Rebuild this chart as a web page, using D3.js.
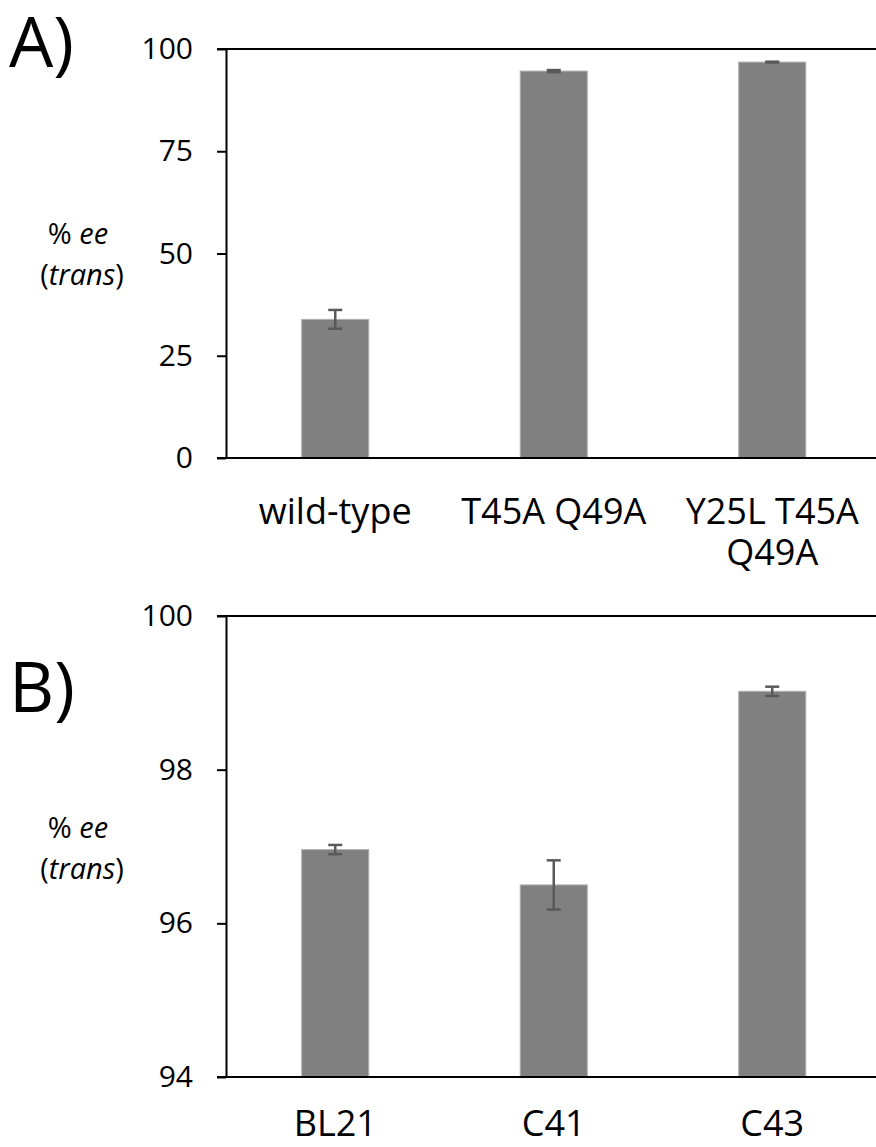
<!DOCTYPE html>
<html>
<head>
<meta charset="utf-8">
<script src="https://cdn.jsdelivr.net/npm/d3@7"></script>
<style>
  html, body { margin: 0; padding: 0; background: #fff; }
  svg { display: block; }
  text { font-family: "Open Sans", "Noto Sans", sans-serif; fill: #000; }
</style>
</head>
<body>
<svg id="chart" width="876" height="1147"></svg>
<script>
// ---- Data ----
const categoriesA = ["wild-type", "T45A Q49A", "Y25L T45A Q49A"];
const valuesA = [33.9, 94.6, 96.8];
const errorsA = [2.3, 0.25, 0.1];
const ticksA = [0, 25, 50, 75, 100];

const categoriesB = ["BL21", "C41", "C43"];
const valuesB = [96.96, 96.50, 99.02];
const errorsB = [0.06, 0.32, 0.06];
const ticksB = [94, 96, 98, 100];

const panelLabels = ["A)", "B)"];
const yTitle = ["% ", "ee", "(", "trans", ")"];

const svg = d3.select("#chart");

function drawPanel(opts) {
  const {cats, vals, errs, ticks, domain, top, bottom, label, labelY, titleY, catY} = opts;
  const left = 226, right = 881.5;
  const x = d3.scaleBand().domain(cats).range([left, right]).padding(0);
  const y = d3.scaleLinear().domain(domain).range([bottom, top]);
  const g = svg.append("g");

  // top line at max value
  g.append("line")
    .attr("x1", left - 9).attr("x2", 876)
    .attr("y1", y(domain[1])).attr("y2", y(domain[1]))
    .attr("stroke", "#000").attr("stroke-width", 2);

  // bars
  const bw = x.bandwidth() * 0.307;
  g.selectAll("rect.bar").data(cats).enter().append("rect")
    .attr("class", "bar")
    .attr("x", d => x(d) + x.bandwidth() / 2 - bw / 2)
    .attr("width", bw)
    .attr("y", (d, i) => y(vals[i]))
    .attr("height", (d, i) => bottom - y(vals[i]))
    .attr("fill", "#808080")
    .attr("stroke", "#b0b0b0")
    .attr("stroke-width", 1);

  // error bars
  const eb = g.selectAll("g.err").data(cats).enter().append("g").attr("class", "err")
    .attr("stroke", "#595959").attr("stroke-width", 2.5);
  eb.append("line")
    .attr("x1", d => x(d) + x.bandwidth() / 2).attr("x2", d => x(d) + x.bandwidth() / 2)
    .attr("y1", (d, i) => y(vals[i] + errs[i])).attr("y2", (d, i) => y(vals[i] - errs[i]));
  eb.append("line")
    .attr("x1", d => x(d) + x.bandwidth() / 2 - 7).attr("x2", d => x(d) + x.bandwidth() / 2 + 7)
    .attr("y1", (d, i) => y(vals[i] + errs[i])).attr("y2", (d, i) => y(vals[i] + errs[i]));
  eb.append("line")
    .attr("x1", d => x(d) + x.bandwidth() / 2 - 7).attr("x2", d => x(d) + x.bandwidth() / 2 + 7)
    .attr("y1", (d, i) => y(vals[i] - errs[i])).attr("y2", (d, i) => y(vals[i] - errs[i]));

  // y axis
  const yAxis = d3.axisLeft(y).tickValues(ticks).tickFormat(d3.format("d"))
    .tickSize(9).tickPadding(24).tickSizeOuter(0);
  const ya = g.append("g").attr("transform", `translate(${left},0)`).call(yAxis);
  ya.select(".domain").attr("stroke", "#000").attr("stroke-width", 2);
  ya.selectAll(".tick line").attr("stroke", "#000").attr("stroke-width", 2);
  ya.selectAll(".tick text").attr("font-size", 30).attr("font-family", "Open Sans").attr("fill", "#000");

  // x axis baseline
  g.append("line")
    .attr("x1", left - 9).attr("x2", 876)
    .attr("y1", bottom).attr("y2", bottom)
    .attr("stroke", "#000").attr("stroke-width", 2);

  // category labels with word wrap (one text element per line)
  const measure = g.append("text").attr("font-size", 36).attr("opacity", 0);
  cats.forEach(d => {
    const cx = x(d) + x.bandwidth() / 2;
    const words = d.split(" ");
    const lines = [];
    let line = [];
    words.forEach(w => {
      line.push(w);
      measure.text(line.join(" "));
      if (measure.node().getComputedTextLength() > x.bandwidth() && line.length > 1) {
        line.pop();
        lines.push(line.join(" "));
        line = [w];
      }
    });
    lines.push(line.join(" "));
    lines.forEach((ln, k) => {
      g.append("text").attr("class", "cat")
        .attr("text-anchor", "middle").attr("font-size", 36)
        .attr("x", cx).attr("y", catY + k * 41).text(ln);
    });
  });
  measure.remove();

  // y title
  const yt = g.append("text").attr("text-anchor", "middle").attr("font-size", 29)
    .attr("x", 78).attr("y", titleY);
  yt.append("tspan").text(yTitle[0]);
  yt.append("tspan").attr("font-style", "italic").text(yTitle[1]);
  const yt2 = g.append("text").attr("text-anchor", "middle").attr("font-size", 29)
    .attr("x", 82).attr("y", titleY + 41);
  yt2.append("tspan").text(yTitle[2]);
  yt2.append("tspan").attr("font-style", "italic").text(yTitle[3]);
  yt2.append("tspan").text(yTitle[4]);

  // panel label
  g.append("text").attr("x", 9).attr("y", labelY).attr("font-size", 70).text(label);
}

drawPanel({cats: categoriesA, vals: valuesA, errs: errorsA, ticks: ticksA,
  domain: [0, 100], top: 49, bottom: 458, label: panelLabels[0], labelY: 67, titleY: 244, catY: 524});
drawPanel({cats: categoriesB, vals: valuesB, errs: errorsB, ticks: ticksB,
  domain: [94, 100], top: 616, bottom: 1077, label: panelLabels[1], labelY: 712, titleY: 838, catY: 1136});
</script>
</body>
</html>
